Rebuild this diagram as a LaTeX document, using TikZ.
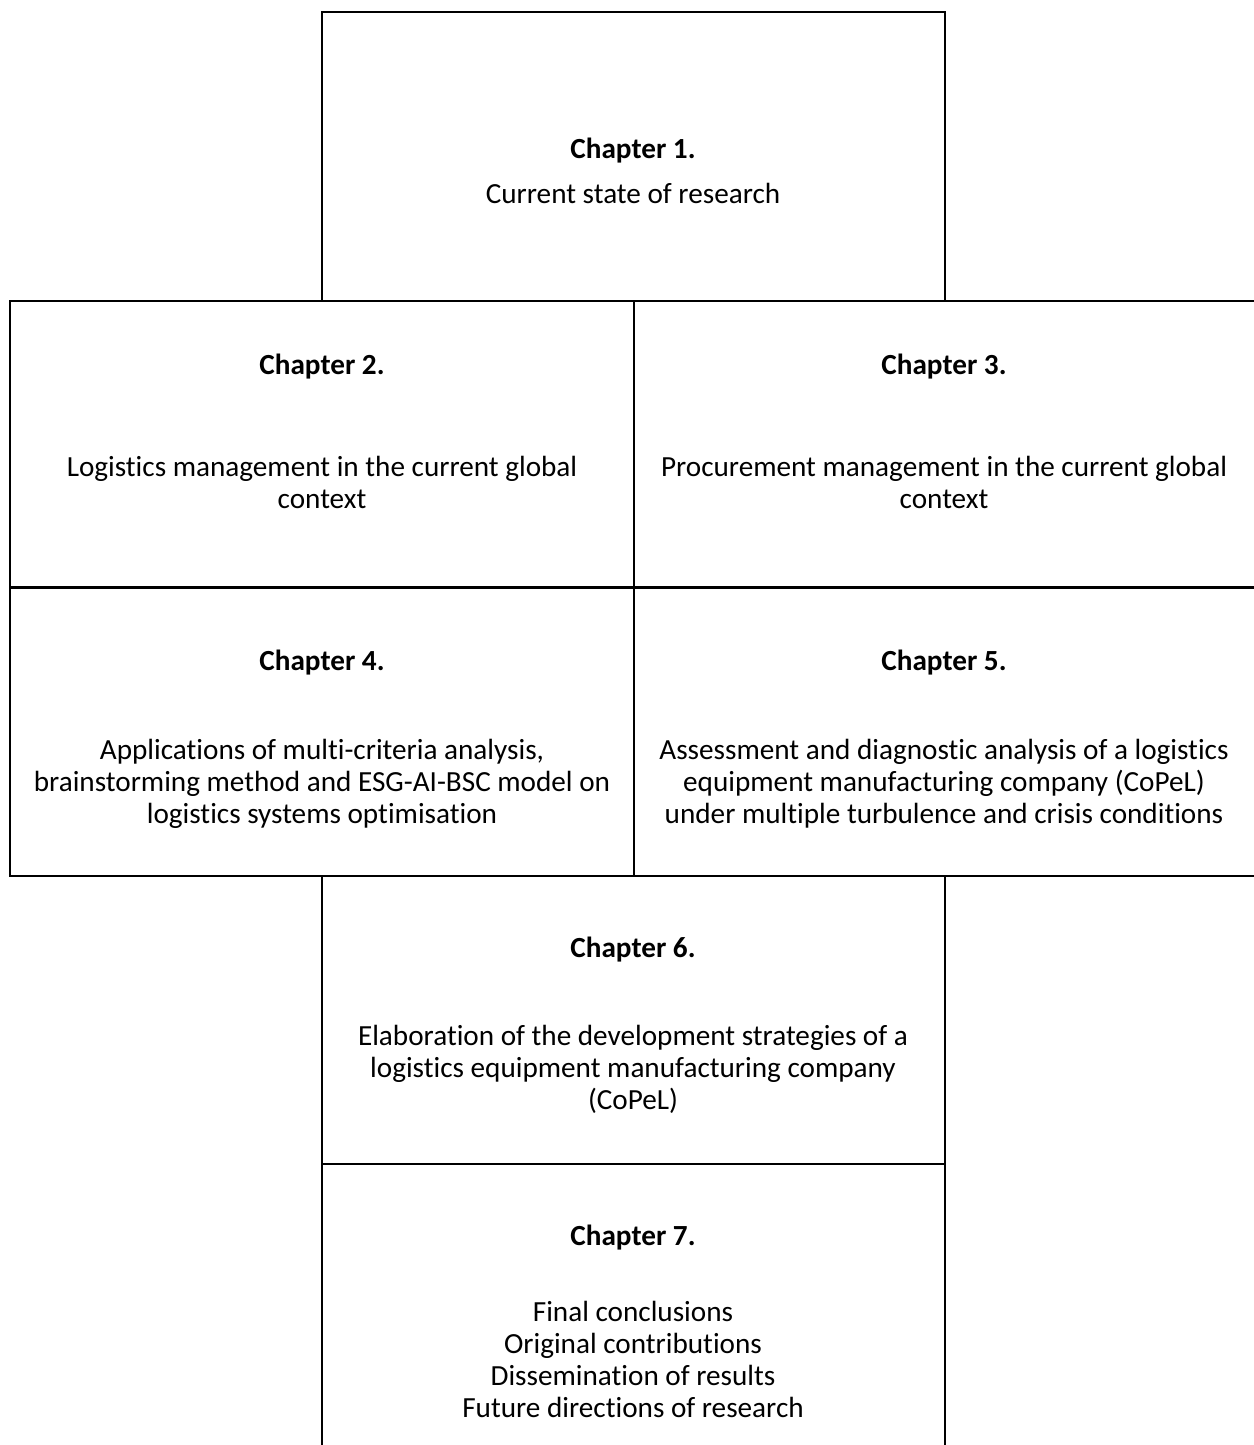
\documentclass[tikz,border=0pt]{standalone}
\usepackage{fontspec}
\setmainfont[Ligatures=NoCommon]{Carlito}
\begin{document}
\begin{tikzpicture}[x=1pt,y=-1pt,
  frame/.style={line width=2.2pt,line cap=rect},
  head/.style={font=\fontsize{29.2}{32}\selectfont\bfseries,inner sep=0pt},
  body/.style={font=\fontsize{29.2}{32}\selectfont,align=center,inner sep=0pt}]
\useasboundingbox[fill=white] (0,0) rectangle (1253,1445);

% corner points of the chapter grid
\coordinate (t1) at (322,12);   \coordinate (t2) at (945,12);
\coordinate (m1) at (10,301);   \coordinate (m2) at (1256,301);
\coordinate (c1) at (10,587.5); \coordinate (c2) at (1256,587.5);
\coordinate (b1) at (10,876);   \coordinate (b2) at (1256,876);
\coordinate (v1) at (634,301);  \coordinate (v2) at (634,876);
\coordinate (l1) at (322,876);  \coordinate (l2) at (322,1450);
\coordinate (r1) at (945,876);  \coordinate (r2) at (945,1450);
\coordinate (h1) at (322,1164); \coordinate (h2) at (945,1164);

% box outlines
\draw[frame] (t1|-m1) -- (t1) -- (t2) -- (t2|-m1);
\draw[frame] (m1) rectangle (b2);
\draw[frame] (c1) -- (c2);
\draw[frame] (v1) -- (v2);
\draw[frame] (l1) -- (l2);
\draw[frame] (r1) -- (r2);
\draw[frame] (h1) -- (h2);

% chapter texts
\node[head] (ch1) at (633,151) {Chapter 1.};
\node[body] (tx1) at (633,193) {Current state of research};

\node[head] (ch2) at (322,367) {Chapter 2.};
\node[body] (tx2) at (322,482) {Logistics management in the current global\\context};

\node[head] (ch3) at (944,367) {Chapter 3.};
\node[body] (tx3) at (944,482) {Procurement management in the current global\\context};

\node[head] (ch4) at (322,663) {Chapter 4.};
\node[body] (tx4) at (322,784) {Applications of multi-criteria analysis,\\brainstorming method and ESG-AI-BSC model on\\logistics systems optimisation};

\node[head] (ch5) at (944,663) {Chapter 5.};
\node[body] (tx5) at (944,784) {Assessment and diagnostic analysis of a logistics\\equipment manufacturing company (CoPeL)\\under multiple turbulence and crisis conditions};

\node[head] (ch6) at (633,950) {Chapter 6.};
\node[body] (tx6) at (633,1069) {Elaboration of the development strategies of a\\logistics equipment manufacturing company\\(CoPeL)};

\node[head] (ch7) at (633,1238) {Chapter 7.};
\node[body] (tx7) at (633,1359) {Final conclusions\\Original contributions\\Dissemination of results\\Future directions of research};
\end{tikzpicture}
\end{document}
